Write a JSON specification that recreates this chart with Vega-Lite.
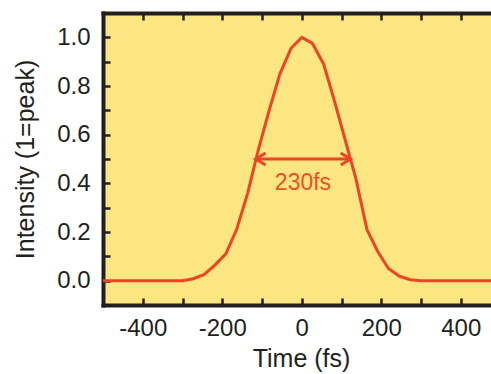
{
  "$schema": "https://vega.github.io/schema/vega-lite/v6.json",
  "autosize": {"type": "none"},
  "padding": {"left": 103, "top": 13, "right": 0, "bottom": 69},
  "width": 388,
  "height": 292,
  "background": "white",
  "config": {
    "view": {"fill": "#fce682", "stroke": null},
    "axis": {
      "grid": false,
      "zindex": 1,
      "domainColor": "#231f20",
      "domainWidth": 4,
      "domainCap": "square",
      "tickColor": "#231f20",
      "tickWidth": 2.5,
      "labelFont": "Liberation Sans",
      "labelFontSize": 24,
      "labelColor": "#231f20",
      "titleFont": "Liberation Sans",
      "titleFontSize": 25,
      "titleFontWeight": "normal",
      "titleColor": "#231f20"
    }
  },
  "resolve": {"axis": {"x": "independent", "y": "independent"}},
  "layer": [
    {
      "data": {"values": [
        {"t": -500, "v": 0}, {"t": -300, "v": 0}, {"t": -273, "v": 0.008}, {"t": -246, "v": 0.025},
        {"t": -218, "v": 0.065}, {"t": -191, "v": 0.11}, {"t": -164, "v": 0.21}, {"t": -136, "v": 0.36},
        {"t": -109, "v": 0.54}, {"t": -82, "v": 0.70}, {"t": -55, "v": 0.85}, {"t": -27, "v": 0.955},
        {"t": 0, "v": 1.0}, {"t": 27, "v": 0.975}, {"t": 55, "v": 0.89}, {"t": 82, "v": 0.74},
        {"t": 109, "v": 0.58}, {"t": 136, "v": 0.42}, {"t": 164, "v": 0.21}, {"t": 191, "v": 0.12},
        {"t": 218, "v": 0.05}, {"t": 246, "v": 0.018}, {"t": 273, "v": 0.004}, {"t": 300, "v": 0},
        {"t": 476, "v": 0}
      ]},
      "mark": {"type": "line", "color": "#ee4423", "strokeWidth": 3, "clip": true},
      "encoding": {
        "x": {
          "field": "t", "type": "quantitative",
          "scale": {"domain": [-500, 476], "nice": false, "zero": false},
          "axis": {
            "orient": "bottom",
            "title": "Time (fs)",
            "titleX": 198,
            "titlePadding": 6,
            "ticks": false,
            "values": [-400, -200, 0, 200, 400],
            "labelExpr": "replace(datum.label, '\u2212', '-')",
            "labelPadding": 11,
            "labelFlush": false,
            "labelOverlap": false
          }
        },
        "y": {
          "field": "v", "type": "quantitative",
          "scale": {"domain": [-0.1, 1.1], "nice": false, "zero": false},
          "axis": {
            "orient": "left",
            "title": "Intensity (1=peak)",
            "titlePadding": 18,
            "ticks": false,
            "values": [0, 0.2, 0.4, 0.6, 0.8, 1.0],
            "format": ".1f",
            "labelPadding": 13,
            "labelFlush": false,
            "labelOverlap": false
          }
        }
      }
    },
    {
      "data": {"values": [
        {"part": "shaft", "o": 0, "t": -116, "v": 0.5}, {"part": "shaft", "o": 1, "t": 123, "v": 0.5},
        {"part": "L", "o": 0, "t": -91, "v": 0.525}, {"part": "L", "o": 1, "t": -116, "v": 0.5}, {"part": "L", "o": 2, "t": -91, "v": 0.475},
        {"part": "R", "o": 0, "t": 98, "v": 0.525}, {"part": "R", "o": 1, "t": 123, "v": 0.5}, {"part": "R", "o": 2, "t": 98, "v": 0.475}
      ]},
      "mark": {"type": "line", "color": "#ee4423", "strokeWidth": 3},
      "encoding": {
        "x": {
          "field": "t", "type": "quantitative",
          "axis": {
            "orient": "top",
            "title": null,
            "labels": false,
            "ticks": false
          }
        },
        "y": {
          "field": "v", "type": "quantitative",
          "axis": {
            "orient": "left",
            "title": null,
            "labels": false,
            "domain": false,
            "offset": -7,
            "tickSize": 7,
            "values": [0, 0.1, 0.2, 0.3, 0.4, 0.5, 0.6, 0.7, 0.8, 0.9, 1.0]
          }
        },
        "detail": {"field": "part"},
        "order": {"field": "o", "type": "quantitative"}
      }
    },
    {
      "data": {"values": [{"t": 3, "v": 0.40, "label": "230fs"}]},
      "mark": {"type": "text", "color": "#f04e23", "font": "Liberation Sans", "fontSize": 23, "baseline": "middle", "align": "center"},
      "encoding": {
        "x": {
          "field": "t", "type": "quantitative",
          "axis": {
            "orient": "bottom",
            "title": null,
            "labels": false,
            "domain": false,
            "offset": -7,
            "tickSize": 7,
            "values": [-400, -300, -200, -100, 0, 100, 200, 300, 400]
          }
        },
        "y": {"field": "v", "type": "quantitative", "axis": null},
        "text": {"field": "label"}
      }
    },
    {
      "data": {"values": [{"t": 3, "v": 0.40, "label": "230fs"}]},
      "mark": {"type": "text", "opacity": 0, "font": "Liberation Sans", "fontSize": 23},
      "encoding": {
        "x": {
          "field": "t", "type": "quantitative",
          "axis": {
            "orient": "top",
            "title": null,
            "labels": false,
            "domain": false,
            "offset": -7,
            "tickSize": 7,
            "values": [-400, -300, -200, -100, 0, 100, 200, 300, 400]
          }
        },
        "y": {"field": "v", "type": "quantitative", "axis": null},
        "text": {"field": "label"}
      }
    }
  ]
}
